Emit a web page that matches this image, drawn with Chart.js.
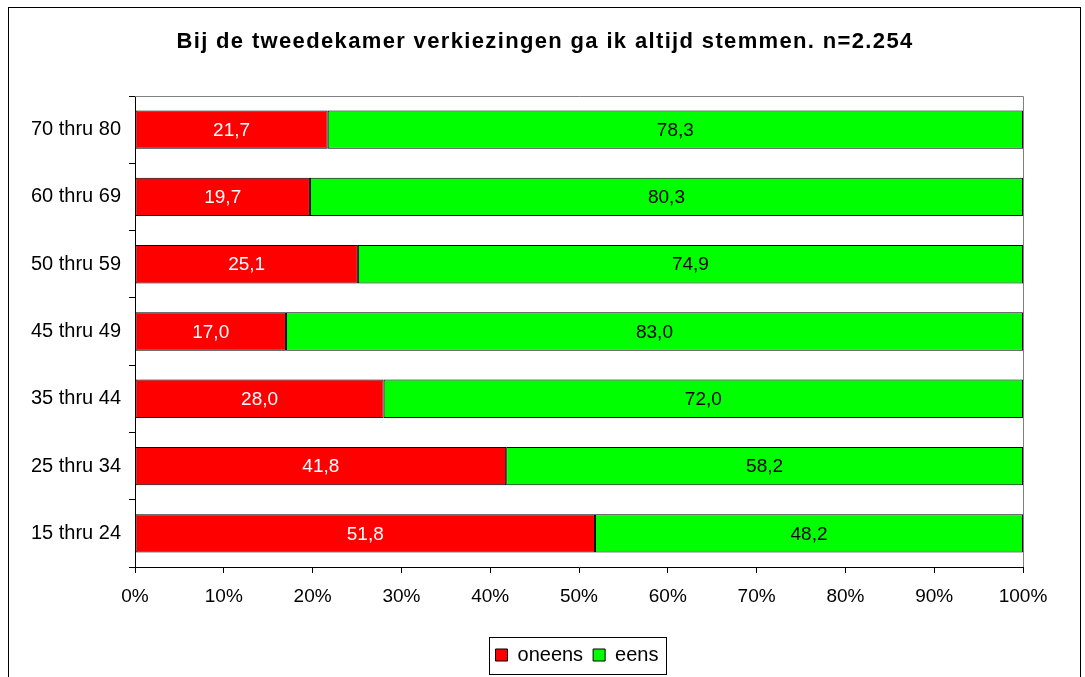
<!DOCTYPE html>
<html>
<head>
<meta charset="utf-8">
<script src="https://cdn.jsdelivr.net/npm/chart.js@4.4.1/dist/chart.umd.min.js"></script>
<style>
    html, body { margin: 0; padding: 0; background: #fff; }
    #wrap { width: 1085px; height: 677px; position: relative; }
</style>
</head>
<body>
<div id="wrap"><canvas id="chart" width="1085" height="677"></canvas></div>
<script>
// --------------------------------------------------------------------
// DATA
// --------------------------------------------------------------------
const categories = ["70 thru 80", "60 thru 69", "50 thru 59", "45 thru 49", "35 thru 44", "25 thru 34", "15 thru 24"];
const oneens = [21.7, 19.7, 25.1, 17.0, 28.0, 41.8, 51.8];
const eens = [78.3, 80.3, 74.9, 83.0, 72.0, 58.2, 48.2];
const xTicks = [0, 10, 20, 30, 40, 50, 60, 70, 80, 90, 100];
const titleText = "Bij de tweedekamer verkiezingen ga ik altijd stemmen. n=2.254";

const FONT = "'Liberation Sans', Arial, sans-serif";
const LEGEND_PAD = 10;
const LEGEND_SIZE = 20;

// --------------------------------------------------------------------
// PLUGIN: title, frame, value labels, legend box
// --------------------------------------------------------------------
const decor = {
    id: "decor",
    afterLayout(chart) {
        // centre the legend under the plot area instead of the canvas
        chart.legend.left = chart.chartArea.left - 4;
    },
    beforeDraw(chart) {
        const ctx = chart.ctx;
        ctx.save();
        ctx.fillStyle = "#fff";
        ctx.fillRect(0, 0, chart.width, chart.height);
        ctx.restore();
    },
    beforeDatasetsDraw(chart) {
        const ctx = chart.ctx;
        const a = chart.chartArea;
        ctx.save();
        ctx.strokeStyle = "#808080";
        ctx.lineWidth = 1;
        ctx.beginPath();
        ctx.moveTo(a.left, Math.round(a.top) + 0.5);
        ctx.lineTo(Math.round(a.right) + 0.5, Math.round(a.top) + 0.5);
        ctx.lineTo(Math.round(a.right) + 0.5, a.bottom);
        ctx.stroke();
        ctx.restore();
    },
    afterDraw(chart) {
        const ctx = chart.ctx;
        ctx.save();

        // title (drawn here for the letter spacing)
        ctx.font = "bold 22px " + FONT;
        ctx.letterSpacing = "1.35px";
        ctx.fillStyle = "#000";
        ctx.textAlign = "center";
        ctx.textBaseline = "middle";
        ctx.fillText(titleText, 545, 42);
        ctx.letterSpacing = "0px";

        // value labels
        ctx.font = "19px " + FONT;
        chart.data.datasets.forEach((ds, di) => {
            const meta = chart.getDatasetMeta(di);
            meta.data.forEach((bar, i) => {
                const cx = (bar.x + bar.base) / 2;
                ctx.fillStyle = di === 0 ? "#fff" : "#000";
                ctx.fillText(ds.data[i].toFixed(1).replace(".", ","), cx, bar.y + 1);
            });
        });

        // legend border
        const lg = chart.legend;
        const lw = lg.lineWidths[0];
        const x0 = (lg.left + LEGEND_PAD + lg.right - lw) / 2;
        const l = x0 - 7;
        const r = x0 + lw - LEGEND_PAD + 7;
        const t = lg.top + LEGEND_PAD - 8;
        const btm = lg.top + LEGEND_PAD + LEGEND_SIZE + 9;
        ctx.strokeStyle = "#000";
        ctx.lineWidth = 1;
        ctx.strokeRect(Math.round(l) + 0.5, Math.round(t) + 0.5, Math.round(r - l), Math.round(btm - t));

        // outer frame
        ctx.strokeRect(8.5, 7.5, 1072, 720);
        ctx.restore();
    }
};

// --------------------------------------------------------------------
// CHART
// --------------------------------------------------------------------
new Chart(document.getElementById("chart"), {
    type: "bar",
    data: {
        labels: categories,
        datasets: [
            {
                label: "oneens",
                data: oneens,
                backgroundColor: "#ff0000",
                borderColor: "#000",
                borderWidth: 1,
                borderSkipped: false,
                barPercentage: 0.57,
                categoryPercentage: 1
            },
            {
                label: "eens",
                data: eens,
                backgroundColor: "#00ff00",
                borderColor: "#000",
                borderWidth: 1,
                borderSkipped: false,
                barPercentage: 0.57,
                categoryPercentage: 1
            }
        ]
    },
    options: {
        indexAxis: "y",
        responsive: false,
        animation: false,
        layout: { padding: { left: 0, right: 62, top: 96, bottom: 2 } },
        plugins: {
            title: { display: false },
            legend: {
                position: "bottom",
                labels: {
                    color: "#000",
                    font: { family: FONT, size: LEGEND_SIZE },
                    boxWidth: 12,
                    boxHeight: 12,
                    padding: LEGEND_PAD
                }
            },
            tooltip: { enabled: false }
        },
        scales: {
            x: {
                stacked: true,
                min: 0,
                max: 100,
                afterBuildTicks(scale) {
                    scale.ticks = xTicks.map(v => ({ value: v }));
                },
                afterFit(scale) { scale.height = 68; },
                ticks: {
                    color: "#000",
                    font: { family: FONT, size: 19 },
                    padding: 12,
                    maxRotation: 0,
                    callback: v => v + "%"
                },
                grid: {
                    drawOnChartArea: false,
                    tickLength: 6,
                    color: "#000"
                },
                border: { color: "#000" }
            },
            y: {
                stacked: true,
                afterFit(scale) { scale.width = 135; },
                ticks: {
                    color: "#000",
                    font: { family: FONT, size: 20 },
                    padding: 8
                },
                grid: {
                    offset: true,
                    drawOnChartArea: false,
                    tickLength: 6,
                    color: "#000"
                },
                border: { color: "#000" }
            }
        }
    },
    plugins: [decor]
});
</script>
</body>
</html>
